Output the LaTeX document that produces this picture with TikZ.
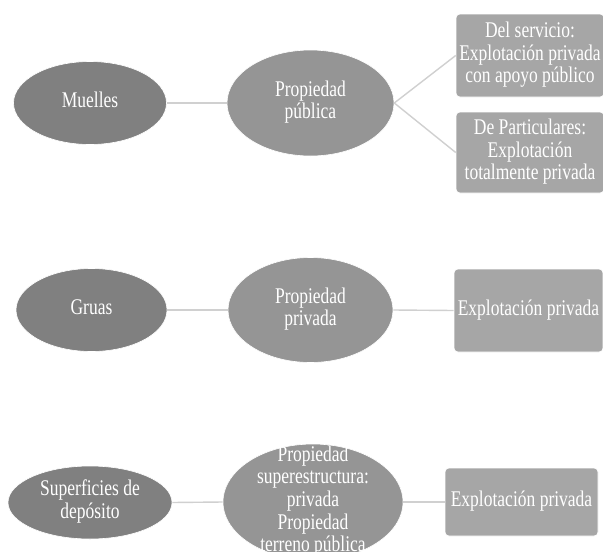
\documentclass[tikz,border=0pt]{standalone}
\usepackage{fontspec}
\setmainfont{Liberation Serif}
\usepackage{graphicx}
\usetikzlibrary{shapes.geometric}
\definecolor{darkg}{HTML}{808080}
\definecolor{midg}{HTML}{959595}
\definecolor{boxg}{HTML}{A6A6A6}
\definecolor{lineg}{HTML}{D0D0D0}
\newcommand{\lbltxt}[1]{\scalebox{1}[1.28]{\fontsize{17.5}{17.6}\selectfont\begin{tabular}{@{}c@{}}#1\end{tabular}}}
\tikzset{
  txt/.style={text=white, inner sep=0pt},
  outerell/.style={ellipse, fill=darkg, draw=white, line width=0.6pt, inner sep=0pt},
  midell/.style={ellipse, fill=midg, draw=white, line width=0.6pt, inner sep=0pt},
  rbox/.style={rectangle, rounded corners=4pt, fill=boxg, draw=white, line width=0.6pt, inner sep=0pt},
  conn/.style={draw=lineg, line width=1.4pt}
}
\begin{document}
\begin{tikzpicture}[x=1pt,y=-1pt]
\useasboundingbox (0,0) rectangle (603,552);
\clip (0,0) rectangle (603,552);
\fill[white] (0,0) rectangle (603,552);
% row 1
\node[outerell, minimum width=153pt, minimum height=83pt, label={[txt]center:\lbltxt{Muelles}}] (muelles) at (90,103) {};
\node[midell, minimum width=167pt, minimum height=106pt, label={[txt]center:\lbltxt{Propiedad\\pública}}] (ppub) at (310.5,103) {};
\node[rbox, minimum width=148pt, minimum height=83pt, label={[txt]center:\lbltxt{Del servicio:\\Explotación privada\\con apoyo público}}] (serv) at (530,55.5) {};
\node[rbox, minimum width=148pt, minimum height=81pt, label={[txt]center:\lbltxt{De Particulares:\\Explotación\\totalmente privada}}] (part) at (530,152.5) {};
% row 2
\node[outerell, minimum width=151pt, minimum height=83pt, label={[txt]center:\lbltxt{Gruas}}] (gruas) at (91.5,310) {};
\node[midell, minimum width=165pt, minimum height=105pt, label={[txt]center:\lbltxt{Propiedad\\privada}}] (ppriv) at (310.5,310) {};
\node[rbox, minimum width=149pt, minimum height=83pt, label={[txt]center:\lbltxt{Explotación privada}}] (exp2) at (528.5,310.5) {};
% row 3
\node[outerell, minimum width=164pt, minimum height=73pt, label={[txt]center:\lbltxt{Superficies de\\depósito}}] (sup) at (90,502.5) {};
\node[midell, minimum width=180pt, minimum height=116pt, label={[txt]center:\lbltxt{Propiedad\\superestructura:\\privada\\Propiedad\\terreno pública}}] (psup) at (313,502) {};
\node[rbox, minimum width=153pt, minimum height=68pt, label={[txt]center:\lbltxt{Explotación privada}}] (exp3) at (521.5,502) {};
% connectors
\draw[conn] (muelles.east) -- (ppub.west);
\draw[conn] (ppub.east) -- (serv.west);
\draw[conn] (ppub.east) -- (part.west);
\draw[conn] (gruas.east) -- (ppriv.west);
\draw[conn] (ppriv.east) -- (exp2.west);
\draw[conn] (sup.east) -- (psup.west);
\draw[conn] (psup.east) -- (exp3.west);
\end{tikzpicture}
\end{document}
